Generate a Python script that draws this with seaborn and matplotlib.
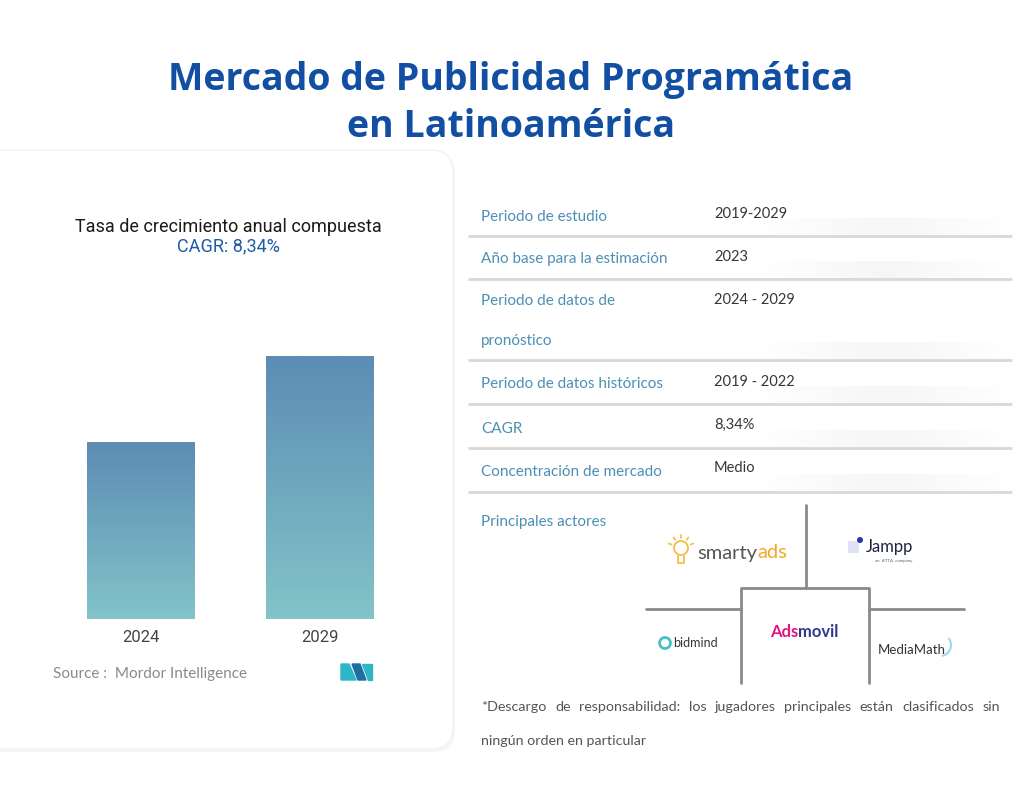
import numpy as np
import pandas as pd
import seaborn as sns
import matplotlib
import matplotlib.pyplot as plt
from matplotlib.colors import LinearSegmentedColormap
from matplotlib.patches import FancyBboxPatch, Rectangle, Circle, Arc, Polygon

sns.set_theme(style='white')
plt.rcParams['font.family'] = ['Lato', 'DejaVu Sans']

# data
years = ["2024", "2029"]
market_index = [100, 149]          # relative market size
cagr_label = "CAGR: 8,34%"

row_labels = [
    ["Periodo de estudio"],
    ["Año base para la estimación"],
    ["Periodo de datos de", "pronóstico"],
    ["Periodo de datos históricos"],
    ["CAGR"],
    ["Concentración de mercado"],
]
row_values = ["2019-2029", "2023", "2024 - 2029", "2019 - 2022", "8,34%", "Medio"]

title_lines = ["Mercado de Publicidad Programática", "en Latinoamérica"]
disclaimer = ("*Descargo de responsabilidad: los jugadores principales están "
              "clasificados sin")
disclaimer2 = "ningún orden en particular"

W, H = 1027, 800
fig = plt.figure(figsize=(W / 100, H / 100), dpi=100)
fig.patch.set_facecolor('white')

# overlay in pixel coords
ov = fig.add_axes([0, 0, 1, 1])
ov.set_xlim(0, W)
ov.set_ylim(H, 0)
ov.axis('off')

# title
for line, yb in zip(title_lines, [90, 137]):
    ov.text(511, yb, line, ha='center', va='baseline', fontsize=27,
            fontweight='bold', color='#124fa2', family=['Open Sans', 'DejaVu Sans'])

# left card with faint shadow
ov.add_patch(FancyBboxPatch((-18, 152), 473, 600,
                            boxstyle='round,pad=0,rounding_size=22',
                            facecolor='#f5f5f5', edgecolor='none', zorder=0))
ov.add_patch(FancyBboxPatch((-20, 150), 473, 599,
                            boxstyle='round,pad=0,rounding_size=22',
                            facecolor='white', edgecolor='#f2f2f2', lw=1, zorder=1))

rob = ['Roboto', 'DejaVu Sans']
ov.text(228, 232, "Tasa de crecimiento anual compuesta", ha='center',
        va='baseline', fontsize=13, color='#1a1a1a', family=rob, zorder=3)
ov.text(228, 251, cagr_label, ha='center', va='baseline', fontsize=13,
        color='#1f5ca6', family=rob, zorder=3)

# bar chart
ax = fig.add_axes([51 / W, 1 - 619 / H, 358 / W, 263 / H])
ax.patch.set_alpha(0)
sns.barplot(x=years, y=market_index, width=0.6, ax=ax, color='#6ea6bf')
cmap = LinearSegmentedColormap.from_list('bar', ['#82c4c9', '#5d8cb4'])
grad = np.linspace(0, 1, 256).reshape(-1, 1)
for p in ax.patches:
    x0, w, h = p.get_x(), p.get_width(), p.get_height()
    p.set_facecolor('none')
    p.set_edgecolor('none')
    im = ax.imshow(grad, extent=[x0, x0 + w, 0, h], origin='lower',
                   aspect='auto', cmap=cmap, zorder=2)
    im.set_clip_path(p)
ax.set_xlim(-0.5, 1.5)
ax.set_ylim(0, max(market_index))
ax.set_yticks([])
ax.set_ylabel('')
for s in ax.spines.values():
    s.set_visible(False)
ax.tick_params(axis='x', length=0, pad=8, labelsize=12, labelcolor='#444444')
for lbl in ax.get_xticklabels():
    lbl.set_family(rob)

ov.text(53, 678, "Source :  Mordor Intelligence", ha='left', va='baseline',
        fontsize=11, color='#8a8a8a', zorder=3)
# MI logo
ov.add_patch(Polygon([[341, 680], [341, 664], [349, 664], [356, 680]],
                     closed=True, color='#2fb5c8', zorder=3))
ov.add_patch(Polygon([[352, 664], [360, 664], [366, 680], [358, 680]],
                     closed=True, color='#1d6fa0', zorder=3))
ov.add_patch(Polygon([[362, 664], [372, 664], [372, 680], [368, 680]],
                     closed=True, color='#2fb5c8', zorder=3))

# table
label_base = [221, 263, 305, 388, 433, 476]
value_base = [218, 261, 304, 386, 429, 472]
line_y = [236, 279, 360, 404, 448, 492]
shade_cmap = LinearSegmentedColormap.from_list('s', ['#ffffff', '#f6f6f6', '#ffffff'])
for y in line_y:
    shade = np.linspace(0, 1, 100).reshape(1, -1)
    ov.imshow(shade, extent=[760, 1012, y, y - 18], cmap=shade_cmap,
              aspect='auto', zorder=0.5)
    ov.plot([468, 1012], [y, y], color='#d8d8d8', lw=2, solid_capstyle='butt', zorder=2)
for lab, val, yl, yv in zip(row_labels, row_values, label_base, value_base):
    for i, part in enumerate(lab):
        ov.text(481, yl + 40 * i, part, ha='left', va='baseline', fontsize=11,
                color='#4c8fb5')
    ov.text(714, yv, val, ha='left', va='baseline', fontsize=10.5, color='#363636')

ov.text(481, 526, "Principales actores", ha='left', va='baseline', fontsize=11,
        color='#4c8fb5')

# players diagram
lc = '#8a8a8a'
ov.plot([806, 806], [505, 588], color=lc, lw=2)
ov.plot([741, 741, 869, 869], [683, 588, 588, 683], color=lc, lw=2)
ov.plot([646, 741], [609, 609], color=lc, lw=2)
ov.plot([869, 964], [609, 609], color=lc, lw=2)

# smartyads
ov.add_patch(Circle((681, 548), 7, facecolor='none', edgecolor='#f5bd45', lw=1.3))
ov.plot([678, 678, 684, 684], [556, 563, 563, 556], color='#f5bd45', lw=1.3)
for a in np.linspace(200, 340, 5):
    r = np.deg2rad(a)
    ov.plot([681 + 10 * np.cos(r), 681 + 13 * np.cos(r)],
            [548 + 10 * np.sin(r), 548 + 13 * np.sin(r)], color='#f5bd45', lw=1.2)
t1 = ov.text(697, 553, "smarty", ha='left', va='center', fontsize=14.5,
             color='#555555')
ov.annotate("ads", xy=(1, 0.5), xycoords=t1, ha='left', va='center',
            fontsize=14.5, color='#f5a623')

# Jampp
ov.add_patch(Rectangle((848, 541), 11, 12, facecolor='#dfe2f6', edgecolor='none'))
ov.add_patch(Circle((860, 540), 2.3, color='#2b35b0'))
ov.text(866, 547, "Jampp", ha='left', va='center', fontsize=12, color='#1d2240')
ov.text(894, 561, "an  ATTA  company", ha='center', va='center', fontsize=3.2,
        color='#666666')

# Adsmovil
t2 = ov.text(770, 632, "Ads", ha='left', va='center', fontsize=12,
             fontweight='bold', color='#e3157f')
ov.annotate("movil", xy=(1, 0.5), xycoords=t2, ha='left', va='center',
            fontsize=12, fontweight='bold', color='#2d3a8f')

# bidmind
ov.add_patch(Circle((665, 643), 5.5, facecolor='none', edgecolor='#49c0c4', lw=2))
ov.text(673, 643, "bidmind", ha='left', va='center', fontsize=9, color='#333333')

# MediaMath
ov.text(878, 650, "MediaMath", ha='left', va='center', fontsize=9.5, color='#333333')
ov.add_patch(Arc((940, 645), 22, 22, theta1=-40, theta2=80, color='#9fd8ee', lw=1.5))

# disclaimer (justified first line)
fig.canvas.draw()
renderer = fig.canvas.get_renderer()
words = disclaimer.split()
wt = []
for wd in words:
    t = ov.text(0, 0, wd, fontsize=10.3)
    wt.append(t.get_window_extent(renderer).width)
    t.remove()
gap = (1000 - 481 - sum(wt)) / (len(words) - 1)
x = 481
for wd, wdt in zip(words, wt):
    ov.text(x, 711, wd, ha='left', va='baseline', fontsize=10.3, color='#555555')
    x += wdt + gap
ov.text(481, 745, disclaimer2, ha='left', va='baseline', fontsize=10.3, color='#555555')

fig.savefig('out.png', dpi=100, facecolor='white')
